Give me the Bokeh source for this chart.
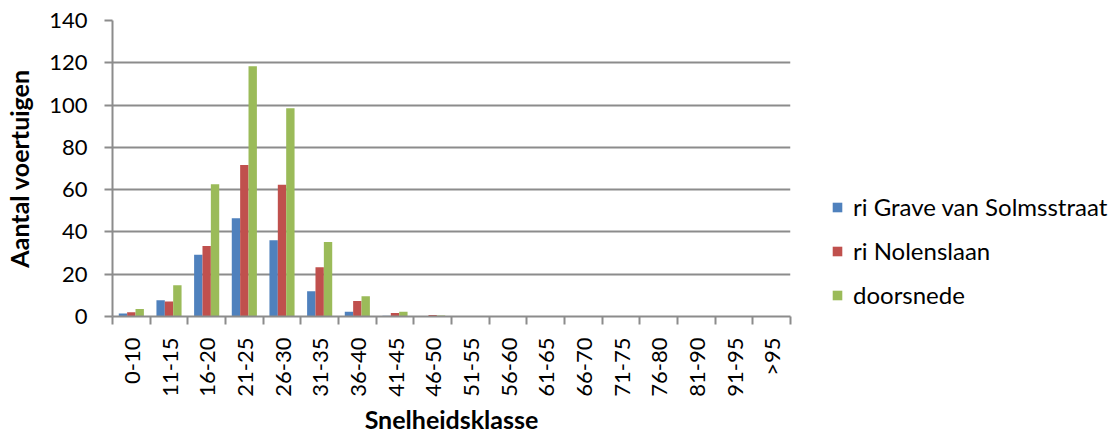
import numpy as np
from bokeh.plotting import figure
from bokeh.models import (ColumnDataSource, FixedTicker, Legend, LegendItem, Range1d)
from bokeh.embed import file_html
from bokeh.resources import INLINE

categories = ["0-10", "11-15", "16-20", "21-25", "26-30", "31-35", "36-40", "41-45", "46-50",
              "51-55", "56-60", "61-65", "66-70", "71-75", "76-80", "81-90", "91-95", ">95"]
grave = [1.4, 7.7, 29.2, 46.5, 36.1, 12.0, 2.2, 0.3, 0.0, 0, 0, 0, 0, 0, 0, 0, 0, 0]
nolens = [2.0, 7.1, 33.4, 71.7, 62.3, 23.3, 7.3, 1.7, 0.7, 0, 0, 0, 0, 0, 0, 0, 0, 0]
doorsnede = [3.6, 14.8, 62.6, 118.4, 98.5, 35.2, 9.6, 2.2, 0.5, 0, 0, 0, 0, 0, 0, 0, 0, 0]
series_names = ["ri Grave van Solmsstraat", "ri Nolenslaan", "doorsnede"]
colors = ["#4F81BD", "#C0504D", "#9BBB59"]
y_ticks = [0, 20, 40, 60, 80, 100, 120, 140]

FONT = "Lato"
GRID = "#8C8C8C"
n = len(categories)
centers = np.arange(n) + 0.5
bw = 1 / 4.5

p = figure(frame_width=678, frame_height=296, output_backend="svg", toolbar_location=None,
           x_range=Range1d(0, n), y_range=Range1d(0, 140),
           min_border_left=112, min_border_top=20, min_border_right=10, min_border_bottom=4)
p.outline_line_color = None
p.background_fill_color = "white"
p.border_fill_color = "white"

renderers = []
for i, (vals, c) in enumerate(zip([grave, nolens, doorsnede], colors)):
    src = ColumnDataSource(dict(x=centers + (i - 1) * bw, top=vals))
    r = p.vbar(x="x", top="top", width=bw, bottom=0, source=src, fill_color=c, line_color=None)
    renderers.append(r)

# x axis
p.xaxis.ticker = FixedTicker(ticks=list(centers), minor_ticks=list(range(n + 1)))
p.xaxis.major_label_overrides = {float(c): lab for c, lab in zip(centers, categories)}
p.xaxis.major_label_orientation = np.pi / 2
p.xaxis.major_tick_out = 0
p.xaxis.major_tick_in = 0
p.xaxis.minor_tick_out = 8
p.xaxis.minor_tick_in = 0
p.xaxis.minor_tick_line_color = GRID
p.xaxis.minor_tick_line_width = 2
p.xaxis.axis_line_color = GRID
p.xaxis.axis_line_width = 2
p.xaxis.major_label_standoff = 13
p.xaxis.major_label_text_font = FONT
p.xaxis.major_label_text_font_size = "22px"
p.xaxis.major_label_text_color = "black"
p.xaxis.axis_label = "Snelheidsklasse"
p.xaxis.axis_label_text_font = FONT
p.xaxis.axis_label_text_font_style = "bold"
p.xaxis.axis_label_text_font_size = "25px"
p.xaxis.axis_label_text_color = "black"
p.xaxis.axis_label_standoff = 4
p.xgrid.visible = False

# y axis
p.yaxis.ticker = FixedTicker(ticks=y_ticks)
p.yaxis.major_tick_out = 8
p.yaxis.major_tick_in = 0
p.yaxis.minor_tick_line_color = None
p.yaxis.major_tick_line_color = GRID
p.yaxis.major_tick_line_width = 2
p.yaxis.axis_line_color = GRID
p.yaxis.axis_line_width = 2
p.yaxis.major_label_standoff = 17
p.yaxis.major_label_text_font = FONT
p.yaxis.major_label_text_font_size = "22px"
p.yaxis.major_label_text_color = "black"
p.yaxis.axis_label = "Aantal voertuigen"
p.yaxis.axis_label_text_font = FONT
p.yaxis.axis_label_text_font_style = "bold"
p.yaxis.axis_label_text_font_size = "25px"
p.yaxis.axis_label_text_color = "black"
p.yaxis.axis_label_standoff = 12
p.ygrid.grid_line_color = GRID
p.ygrid.grid_line_width = 2

legend = Legend(items=[LegendItem(label=nm, renderers=[r]) for nm, r in zip(series_names, renderers)],
                location=(41, 7), orientation="vertical")
legend.label_text_font = FONT
legend.label_text_font_size = "24px"
legend.label_text_color = "black"
legend.glyph_width = 12
legend.glyph_height = 12
legend.label_standoff = 10
legend.label_height = 28
legend.spacing = 15
legend.padding = 0
legend.margin = 0
legend.border_line_color = None
legend.background_fill_alpha = 0
p.add_layout(legend, "right")

open("out.html", "w").write(file_html(p, INLINE))
